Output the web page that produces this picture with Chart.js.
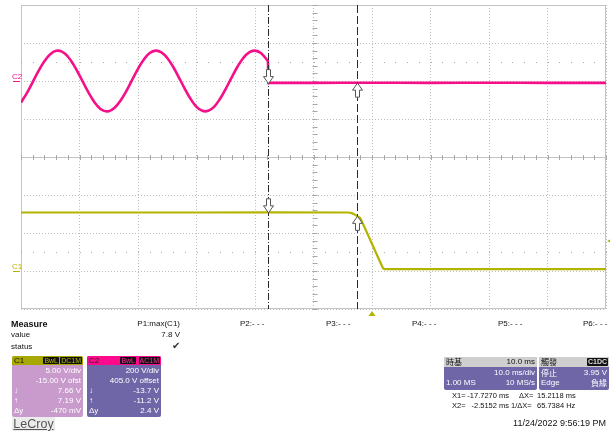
<!DOCTYPE html>
<html>
<head>
<meta charset="utf-8">
<script src="https://cdn.jsdelivr.net/npm/chart.js@4.4.1/dist/chart.umd.min.js"></script>
<style>
  body { margin: 0; background: #fff; font-family: "Liberation Sans", Arial, sans-serif; }
  #wrap { position: relative; width: 610px; height: 436px; overflow: hidden; }
  #scope { position: absolute; left: 0; top: 0; }
  .t { position: absolute; font-size: 8px; line-height: 10px; color: #111; white-space: nowrap; }
  .cur { font-size: 7.5px; }
  .r { text-align: right; }
  .box { position: absolute; border-radius: 2px; overflow: hidden; }
  .hdr { position: absolute; left: 0; right: 0; top: 0; height: 9px; font-size: 8px; line-height: 9px; }
  .row { position: absolute; left: 2px; right: 2px; height: 10px; font-size: 8px; line-height: 10px; color: #fff; white-space: nowrap; }
  .row .v { position: absolute; right: 0; }
  .badge { position: absolute; top: 1px; height: 7px; line-height: 7px; font-size: 7px; background: #111; border-radius: 1px; padding: 0 1px; }
  .cjk { font-family: "Noto Sans CJK TC", sans-serif; }
</style>
</head>
<body>
<div id="wrap">
  <canvas id="scope" width="610" height="436"></canvas>

  <div class="t" style="left:11px;top:319px;font-weight:bold;font-size:9px;">Measure</div>
  <div class="t r" style="left:120px;width:60px;top:319px;">P1:max(C1)</div>
  <div class="t" style="left:240px;top:319px;">P2:- - -</div>
  <div class="t" style="left:326px;top:319px;">P3:- - -</div>
  <div class="t" style="left:412px;top:319px;">P4:- - -</div>
  <div class="t" style="left:498px;top:319px;">P5:- - -</div>
  <div class="t" style="left:583px;top:319px;">P6:- - -</div>
  <div class="t" style="left:11px;top:330px;">value</div>
  <div class="t r" style="left:120px;width:60px;top:330px;">7.8 V</div>
  <div class="t" style="left:11px;top:342px;">status</div>
  <div class="t" style="left:172px;top:341px;font-size:10px;color:#333;">&#10004;</div>

  <!-- C1 box -->
  <div class="box" style="left:12px;top:356px;width:71px;height:61px;background:#c89bcc;">
    <div class="hdr" style="background:#a8a800;">
      <span style="position:absolute;left:2px;color:#111;">C1</span>
      <span class="badge" style="right:24px;color:#b8b800;">BwL</span>
      <span class="badge" style="right:1px;color:#b8b800;">DC1M</span>
    </div>
    <div class="row" style="top:10px;"><span class="v">5.00 V/div</span></div>
    <div class="row" style="top:20px;"><span class="v">-15.00 V ofst</span></div>
    <div class="row" style="top:30px;">&#8595;<span class="v">7.66 V</span></div>
    <div class="row" style="top:40px;">&#8593;<span class="v">7.19 V</span></div>
    <div class="row" style="top:50px;">&#916;y<span class="v">-470 mV</span></div>
  </div>

  <!-- C2 box -->
  <div class="box" style="left:87px;top:356px;width:74px;height:61px;background:#6e66a6;">
    <div class="hdr" style="background:#ff0a8c;">
      <span style="position:absolute;left:2px;color:#222;">C2</span>
      <span class="badge" style="right:25px;color:#ff2a9c;">BwL</span>
      <span class="badge" style="right:1px;color:#ff2a9c;">AC1M</span>
    </div>
    <div class="row" style="top:10px;"><span class="v">200 V/div</span></div>
    <div class="row" style="top:20px;"><span class="v">405.0 V offset</span></div>
    <div class="row" style="top:30px;">&#8595;<span class="v">-13.7 V</span></div>
    <div class="row" style="top:40px;">&#8593;<span class="v">-11.2 V</span></div>
    <div class="row" style="top:50px;">&#916;y<span class="v">2.4 V</span></div>
  </div>

  <div class="t" style="left:12px;top:417px;width:43px;height:14px;background:#ececec;font-size:12.5px;line-height:14px;color:#555;text-decoration:underline;text-align:center;">LeCroy</div>

  <!-- timebase box -->
  <div class="box" style="left:444px;top:357px;width:93px;height:33px;background:#6e66a6;">
    <div class="hdr" style="background:#cfcfcf;height:10px;line-height:10px;">
      <span class="cjk" style="position:absolute;left:2px;color:#111;">時基</span>
      <span style="position:absolute;right:2px;color:#111;">10.0 ms</span>
    </div>
    <div class="row" style="top:11px;"><span class="v">10.0 ms/div</span></div>
    <div class="row" style="top:21px;">1.00 MS<span class="v">10 MS/s</span></div>
  </div>

  <!-- trigger box -->
  <div class="box" style="left:539px;top:357px;width:70px;height:33px;background:#6e66a6;">
    <div class="hdr" style="background:#cfcfcf;height:10px;line-height:10px;">
      <span class="cjk" style="position:absolute;left:2px;color:#111;">觸發</span>
      <span class="badge" style="right:1px;top:1px;height:8px;line-height:8px;color:#ddd;font-weight:bold;">C1DC</span>
    </div>
    <div class="row cjk" style="top:11px;">停止<span class="v" style="font-family:'Liberation Sans',Arial,sans-serif;">3.95 V</span></div>
    <div class="row" style="top:21px;">Edge<span class="v cjk">負緣</span></div>
  </div>

  <div class="t cur" style="left:452px;top:391px;">X1=</div>
  <div class="t r cur" style="left:459px;width:50px;top:391px;">-17.7270 ms</div>
  <div class="t cur" style="left:519px;top:391px;">&#916;X=</div>
  <div class="t cur" style="left:537px;top:391px;">15.2118 ms</div>
  <div class="t cur" style="left:452px;top:401px;">X2=</div>
  <div class="t r cur" style="left:459px;width:50px;top:401px;">-2.5152 ms</div>
  <div class="t cur" style="left:511px;top:401px;">1/&#916;X=</div>
  <div class="t cur" style="left:537px;top:401px;">65.7384 Hz</div>
  <div class="t r" style="left:480px;width:126px;top:418px;font-size:9px;">11/24/2022 9:56:19 PM</div>
</div>

<script>
// time base (ms) and channel scales
const timeRange = [-60, 40];
const c2Range = [-400, 400];   // 200 V/div, top grid
const c1Range = [-5, 15];      // 5 V/div, bottom grid

// C2 (pink) samples: mains sine until the cut at X1, then flat
const c2Time = [-60, -59, -58, -57, -56, -55, -54, -53, -52, -51, -50, -49, -48, -47, -46, -45,
  -44, -43, -42, -41, -40, -39, -38, -37, -36, -35, -34, -33, -32, -31, -30, -29, -28, -27, -26,
  -25, -24, -23, -22, -21, -20, -19, -18, -17.8, -17.72, -17.6, -10, 0, 10, 20, 30, 40];
const c2Volts = [-113, -64, -6, 53, 104, 141, 159, 155, 129, 85, 30, -30, -85, -129, -155, -159,
  -141, -104, -53, 6, 64, 113, 147, 160, 151, 121, 75, 18, -41, -95, -136, -157, -157, -136, -95,
  -41, 18, 75, 121, 151, 160, 147, 113, 104, -12, -10, -10, -9, -10, -9, -10, -10];

// C1 (yellow) samples: high level, falling edge after X2, low level
const c1Time = [-60, -30, -4, -3.5, -3, -2.5, -2, 1.9, 2.2, 20, 40];
const c1Volts = [7.7, 7.7, 7.7, 7.62, 7.45, 7.19, 6.95, 0.35, 0.25, 0.25, 0.25];

// cursors and their readouts
const cursorX = [-17.727, -2.5152];
const cursorC1 = [7.66, 7.19];
const cursorC2 = [-13.7, -11.2];
const trigLevel = 3.95;

const pink = '#f5108a';
const olive = '#b4b400';
const gridCol = '#bcbcbc';

const scopeDecor = {
  id: 'scopeDecor',
  beforeDatasetsDraw(chart) {
    const { ctx, chartArea: a, scales } = chart;
    const x = scales.x, yT = scales.yTop, yB = scales.yBot;
    const mid = yT.getPixelForValue(c2Range[0]);
    ctx.save();
    ctx.strokeStyle = '#c4c4c4';
    ctx.lineWidth = 1;
    ctx.strokeRect(Math.round(a.left) + 0.5, Math.round(a.top) + 0.5,
      Math.round(a.right - a.left) - 1, Math.round(a.bottom - a.top) - 1);
    ctx.beginPath();
    ctx.moveTo(a.left, Math.round(mid) + 0.5);
    ctx.lineTo(a.right, Math.round(mid) + 0.5);
    ctx.stroke();
    // minor ticks on the divider line and on the centre vertical
    ctx.strokeStyle = '#a8a8a8';
    ctx.beginPath();
    for (let t = timeRange[0]; t <= timeRange[1]; t += 2) {
      const px = Math.round(x.getPixelForValue(t)) + 0.5;
      ctx.moveTo(px, mid - 2); ctx.lineTo(px, mid + 3);
    }
    const cx = Math.round(x.getPixelForValue(-10)) + 0.5;
    for (let v = c2Range[0]; v <= c2Range[1]; v += 40) {
      const py = Math.round(yT.getPixelForValue(v)) + 0.5;
      ctx.moveTo(cx - 2, py); ctx.lineTo(cx + 3, py);
    }
    for (let v = c1Range[0]; v <= c1Range[1]; v += 1) {
      const py = Math.round(yB.getPixelForValue(v)) + 0.5;
      ctx.moveTo(cx - 2, py); ctx.lineTo(cx + 3, py);
    }
    ctx.stroke();
    // dot rows
    ctx.fillStyle = '#a8a8a8';
    const rows = [yT.getPixelForValue(100), yB.getPixelForValue(2.5)];
    rows.forEach(py => {
      for (let t = timeRange[0]; t <= timeRange[1]; t += 2) {
        ctx.fillRect(Math.round(x.getPixelForValue(t)), Math.round(py), 1, 1);
      }
    });
    ctx.restore();
  },
  afterDatasetsDraw(chart) {
    const { ctx, chartArea: a, scales } = chart;
    const x = scales.x, yT = scales.yTop, yB = scales.yBot;
    ctx.save();
    // cursor lines
    ctx.strokeStyle = '#2a2a2a';
    ctx.lineWidth = 1;
    cursorX.forEach((cv, i) => {
      const px = Math.round(x.getPixelForValue(cv)) + 0.5;
      ctx.setLineDash(i === 0 ? [7, 2, 1, 2] : [8, 3]);
      ctx.beginPath();
      ctx.moveTo(px, a.top); ctx.lineTo(px, a.bottom);
      ctx.stroke();
    });
    ctx.setLineDash([]);
    // hollow cursor arrows
    function arrow(px, tip, dir) {
      const s = dir; // 1 = points down, -1 = points up
      ctx.beginPath();
      ctx.moveTo(px - 2, tip - s * 14);
      ctx.lineTo(px + 2, tip - s * 14);
      ctx.lineTo(px + 2, tip - s * 7);
      ctx.lineTo(px + 5, tip - s * 7);
      ctx.lineTo(px, tip);
      ctx.lineTo(px - 5, tip - s * 7);
      ctx.lineTo(px - 2, tip - s * 7);
      ctx.closePath();
      ctx.fillStyle = '#fff';
      ctx.fill();
      ctx.strokeStyle = '#555';
      ctx.stroke();
    }
    cursorX.forEach((cv, i) => {
      const px = Math.round(x.getPixelForValue(cv)) + 0.5;
      const dir = i === 0 ? 1 : -1;
      arrow(px, yT.getPixelForValue(cursorC2[i]), dir);
      arrow(px, yB.getPixelForValue(cursorC1[i]), dir);
    });
    // trigger time marker (t = 0) and trigger level marker
    const tx = x.getPixelForValue(0);
    ctx.fillStyle = olive;
    ctx.beginPath();
    ctx.moveTo(tx, a.bottom + 2);
    ctx.lineTo(tx + 3.5, a.bottom + 7);
    ctx.lineTo(tx - 3.5, a.bottom + 7);
    ctx.closePath();
    ctx.fill();
    const ly = yB.getPixelForValue(trigLevel);
    ctx.beginPath();
    ctx.moveTo(a.right + 1, ly);
    ctx.lineTo(a.right + 5, ly - 2);
    ctx.lineTo(a.right + 5, ly + 2);
    ctx.closePath();
    ctx.fill();
    // channel ground markers on the left
    ctx.font = '8px "Liberation Sans", Arial, sans-serif';
    ctx.textBaseline = 'bottom';
    const marks = [[yB.getPixelForValue(0), olive, 'C1'], [yT.getPixelForValue(0), pink, 'C2']];
    marks.forEach(([gy, col, name]) => {
      const g = Math.round(gy) + 0.5;
      ctx.strokeStyle = col;
      ctx.beginPath(); ctx.moveTo(13, g); ctx.lineTo(20, g); ctx.stroke();
      ctx.fillStyle = col;
      ctx.fillText(name, 12, g - 1);
    });
    ctx.restore();
  }
};

const c2Data = c2Time.map((t, i) => ({ x: t, y: c2Volts[i] }));
const c1Data = c1Time.map((t, i) => ({ x: t, y: c1Volts[i] }));

const gridOpts = { color: gridCol, drawTicks: false };
const borderOpts = { display: false, dash: [1, 2] };

new Chart(document.getElementById('scope').getContext('2d'), {
  type: 'line',
  data: {
    datasets: [
      {
        label: 'C2',
        data: c2Data,
        xAxisID: 'x',
        yAxisID: 'yTop',
        borderColor: pink,
        borderWidth: 2.6,
        tension: 0.4,
        pointRadius: 0
      },
      {
        label: 'C1',
        data: c1Data,
        xAxisID: 'x',
        yAxisID: 'yBot',
        borderColor: olive,
        borderWidth: 2.2,
        tension: 0.2,
        pointRadius: 0
      }
    ]
  },
  options: {
    responsive: false,
    animation: false,
    layout: { padding: { left: 21, top: 5, right: 4, bottom: 127 } },
    plugins: { legend: { display: false }, tooltip: { enabled: false } },
    scales: {
      x: {
        type: 'linear',
        min: timeRange[0],
        max: timeRange[1],
        ticks: { display: false, stepSize: 10 },
        grid: gridOpts,
        border: borderOpts
      },
      yBot: {
        type: 'linear',
        position: 'left',
        stack: 'screen',
        stackWeight: 1,
        min: c1Range[0],
        max: c1Range[1],
        ticks: { display: false, stepSize: 5 },
        grid: gridOpts,
        border: borderOpts
      },
      yTop: {
        type: 'linear',
        position: 'left',
        stack: 'screen',
        stackWeight: 1,
        min: c2Range[0],
        max: c2Range[1],
        ticks: { display: false, stepSize: 200 },
        grid: gridOpts,
        border: borderOpts
      }
    }
  },
  plugins: [scopeDecor]
});
</script>
</body>
</html>
